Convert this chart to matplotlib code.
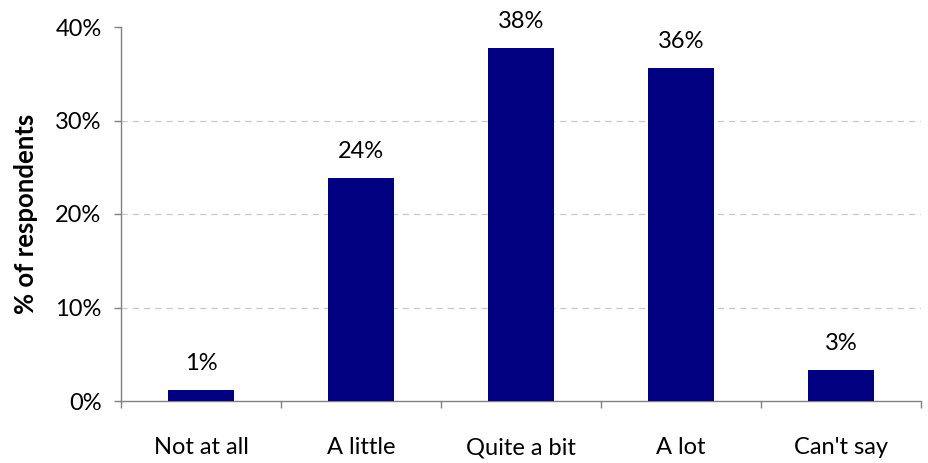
import matplotlib
matplotlib.use("Agg")
import matplotlib.pyplot as plt
from matplotlib.ticker import FuncFormatter, FixedLocator

categories = ["Not at all", "A little", "Quite a bit", "A lot", "Can't say"]
values = [1.15, 23.85, 37.75, 35.6, 3.3]
labels = ["1%", "24%", "38%", "36%", "3%"]
yticks = [0, 10, 20, 30, 40]

plt.rcParams['font.family'] = ['Lato', 'DejaVu Sans']
FS = 17

fig = plt.figure(figsize=(9.29, 4.63), dpi=100)
ax = fig.add_axes([121/929, 1 - 401/463, 800/929, (401 - 27)/463])

x = list(range(len(categories)))
ax.bar(x, values, width=0.41, color="#000080", zorder=3)
for xi, v, lab in zip(x, values, labels):
    ax.annotate(lab, (xi, v), xytext=(0, 14.4), textcoords="offset points",
                ha="center", va="baseline", fontsize=FS, color="black")

ax.set_xlim(-0.5, len(categories) - 0.5)
ax.set_ylim(0, 40)
ax.yaxis.set_major_locator(FixedLocator(yticks))
ax.yaxis.set_major_formatter(FuncFormatter(lambda v, p: f"{int(v)}%"))
ax.set_xticks(x)
ax.set_xticklabels(categories, fontsize=FS)
ax.xaxis.set_minor_locator(FixedLocator([i - 0.5 for i in range(len(categories) + 1)]))
ax.tick_params(axis="x", which="major", length=0, pad=26)
ax.tick_params(axis="x", which="minor", length=5, color="#808080", width=1)
ax.tick_params(axis="y", length=5, color="#808080", width=1, labelsize=FS, pad=9)

for y in [10, 20, 30]:
    ax.axhline(y, color="#c8c8c8", linestyle=(0, (5, 4)), linewidth=0.9, zorder=1)

for s in ["top", "right"]:
    ax.spines[s].set_visible(False)
for s in ["left", "bottom"]:
    ax.spines[s].set_color("#808080")
    ax.spines[s].set_linewidth(1)

ax.set_ylabel("% of respondents", fontsize=18.5, fontweight="bold", labelpad=12)

fig.savefig("out.png", dpi=100)
